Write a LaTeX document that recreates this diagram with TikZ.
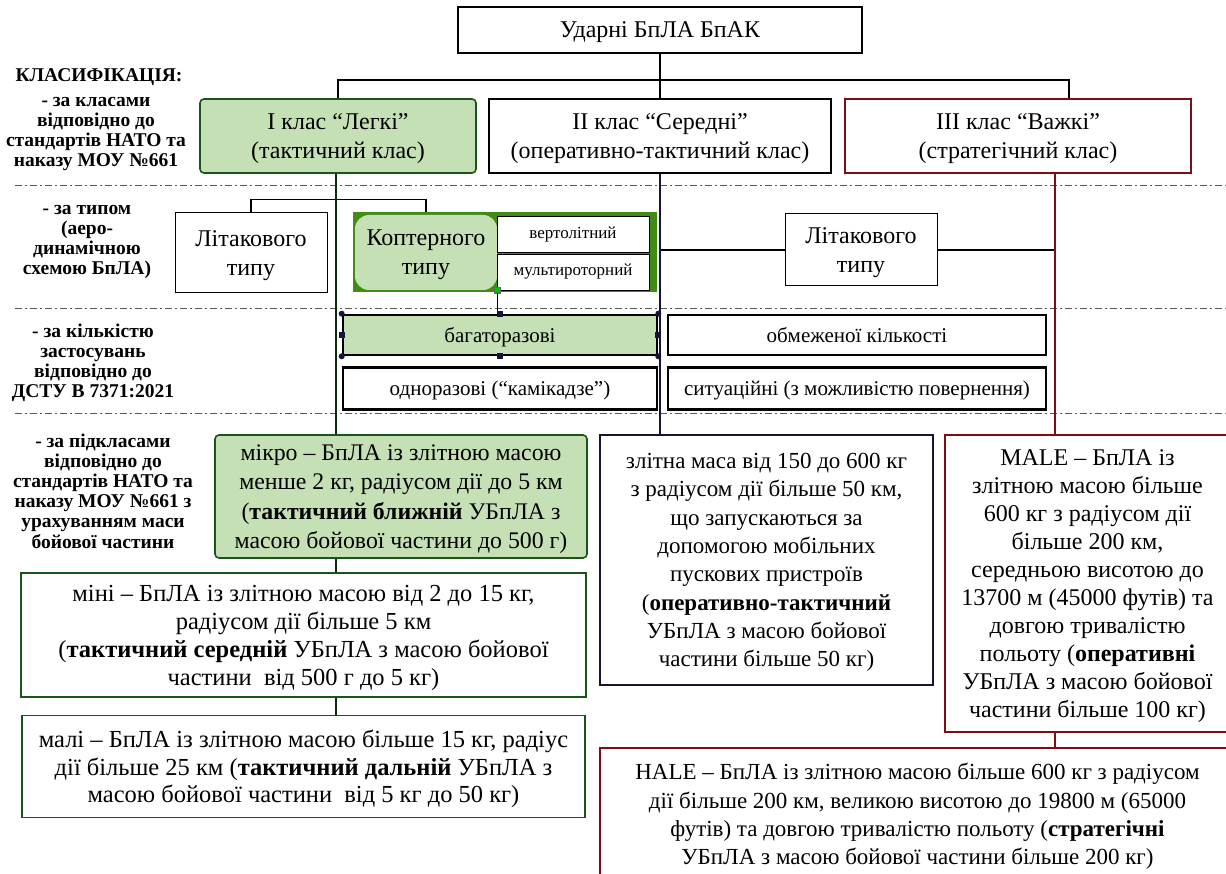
\documentclass[tikz,border=0pt]{standalone}
\usepackage{fontspec}
\setmainfont{Liberation Serif}
\usetikzlibrary{positioning,calc}
\definecolor{lgreen}{RGB}{197,224,180}
\definecolor{dgreen}{RGB}{25,85,25}
\definecolor{kgreen}{RGB}{65,140,20}
\definecolor{maroon}{RGB}{125,15,20}
\definecolor{navy}{RGB}{20,20,60}
\newcommand{\bodyfs}{\fontsize{24}{29}\selectfont}
\newcommand{\smallfs}{\fontsize{23}{28.3}\selectfont}
\newcommand{\rowfs}{\fontsize{21}{24}\selectfont}
\newcommand{\subfs}{\fontsize{17}{19}\selectfont}
\newcommand{\labfs}{\fontsize{19.5}{20.2}\selectfont\bfseries}

\begin{document}
\begin{tikzpicture}[x=1pt,y=-1pt,
 box/.style={draw,line width=1.6pt,fill=white,align=center,inner sep=0pt,text depth=0pt,font=\bodyfs},
 grn/.style={box,fill=lgreen,draw=dgreen,rounded corners=4pt},
 gbox/.style={box,draw=dgreen},
 rbox/.style={box,draw=maroon,line width=2pt},
 row3/.style={box,line width=2.6pt,font=\rowfs},
 sub/.style={draw,line width=0.8pt,fill=white,align=center,font=\subfs,minimum width=152pt,minimum height=36pt,inner sep=0pt},
 lab/.style={align=center,font=\labfs},
 conn/.style={line width=1.2pt},
 col1/.style={line width=1.8pt,dgreen!50!black},
 col2/.style={line width=1.8pt,navy},
 col3/.style={line width=1.8pt,maroon},
 sep/.style={gray!70!black,line width=0.8pt,dash pattern=on 7pt off 3pt on 2pt off 3pt},
 handle/.style={fill=navy,minimum size=6pt,inner sep=0pt}]
\useasboundingbox (0,0) rectangle (1226,874);
\fill[white] (0,0) rectangle (1226,874);
% separators between the levels
\foreach \y in {185,308,413} \draw[sep] (15,\y) -- (1226,\y);

% left column
\node[lab] (cls) at (99,77) {КЛАСИФІКАЦІЯ:};
\node[lab] (lab1) at (96,134) {- за класами\\відповідно до\\стандартів НАТО та\\наказу МОУ №661};
\node[lab] (lab2) at (87,242) {- за типом\\(аеро-\\динамічною\\схемою БпЛА)};
\node[lab] (lab3) at (93,363) {- за кількістю\\застосувань\\відповідно до\\ДСТУ В 7371:2021};
\node[lab] (lab4) at (103,491) {- за підкласами\\відповідно до\\стандартів НАТО та\\наказу МОУ №661 з\\урахуванням маси\\бойової частини};

% classes
\node[box,line width=2pt,minimum width=404pt,minimum height=46pt] (top) at (660,30) {Ударні БпЛА БпАК};
\node[grn,minimum width=276pt,minimum height=74pt] (c1) at (338,136) {I клас “Легкі”\\(тактичний клас)};
\node[box,minimum width=342pt,minimum height=74pt] (c2) at (660,136) {II клас “Середні”\\(оперативно-тактичний клас)};
\node[rbox,minimum width=346pt,minimum height=74pt] (c3) at (1018,136) {III клас “Важкі”\\(стратегічний клас)};
\coordinate (bus) at ($(top.south)+(0,26)$);
\coordinate (l1) at ([xshift=-2pt]c1.south);
\coordinate (l3) at ([xshift=37pt]c3.south);
\draw[conn] (top.south) -- (bus);
\draw[conn] (c1.north) |- (bus) -| ([xshift=51pt]c3.north);
\draw[conn] (bus) -- (c2.north);

% type
\node[box,line width=1pt,minimum width=152pt,minimum height=80pt] (lit1) at (251,253) {Літакового\\типу};
\node[draw=kgreen,fill=kgreen,line width=1pt,minimum width=303pt,minimum height=79pt] (kop) at (504.5,252.5) {};
\node[fill=lgreen,rounded corners=14pt,minimum width=142pt,minimum height=75pt,align=center,font=\bodyfs,inner sep=0pt,text depth=0pt] (kopl) at (426,252.5) {Коптерного\\типу};
\node[sub] (vert) at (573,234) {вертолітний};
\node[sub] (mult) at (573,272) {мультироторний};
\node[box,line width=1pt,minimum width=152pt,minimum height=72pt] (lit2) at (861,250) {Літакового\\типу};

% number of uses
\node[row3,fill=lgreen,minimum width=314pt,minimum height=40pt] (bahat) at (500,335) {багаторазові};
\node[row3,minimum width=314pt,minimum height=42pt,below=10pt of bahat] (odno) {одноразові (“камікадзе”)};
\node[row3,minimum width=378pt,minimum height=40pt] (obm) at (857,335) {обмеженої кількості};
\node[row3,minimum width=378pt,minimum height=42pt,below=10pt of obm] (sytu) {ситуаційні (з можливістю повернення)};

% subclasses
\node[grn,font=\fontsize{23.8}{29.3}\selectfont,minimum width=372pt,minimum height=123pt] (micro) at (401,496.5) {мікро – БпЛА із злітною масою\\менше 2 кг, радіусом дії до 5 км\\(\textbf{тактичний ближній} УБпЛА з\\масою бойової частини до 500 г)};
\node[box,font=\smallfs,draw=navy,line width=2pt,minimum width=333pt,minimum height=250pt] (zlit) at (766.5,560) {злітна маса від 150 до 600 кг\\з радіусом дії більше 50 км,\\що запускаються за\\допомогою мобільних\\пускових пристроїв\\(\textbf{оперативно-тактичний}\\УБпЛА з масою бойової\\частини більше 50 кг)};
\node[rbox,font=\fontsize{24}{28}\selectfont,minimum width=285pt,minimum height=297pt] (male) at (1087.5,583.5) {MALE – БпЛА із\\злітною масою більше\\600 кг з радіусом дії\\більше 200 км,\\середньою висотою до\\13700 м (45000 футів) та\\довгою тривалістю\\польоту (\textbf{оперативні}\\УБпЛА з масою бойової\\частини більше 100 кг)};
\node[gbox,font=\fontsize{24.5}{28}\selectfont,minimum width=565pt,minimum height=124pt] (mini) at (303.5,635) {міні – БпЛА із злітною масою від 2 до 15 кг,\\радіусом дії більше 5 км\\(\textbf{тактичний середній} УБпЛА з масою бойової\\частини\ \ від 500 г до 5 кг)};
\node[gbox,font=\fontsize{24.5}{27.5}\selectfont,minimum width=563pt,minimum height=102pt,below=17pt of mini] (mali) {малі – БпЛА із злітною масою більше 15 кг, радіус\\дії більше 25 км (\textbf{тактичний дальній} УБпЛА з\\масою бойової частини\ \ від 5 кг до 50 кг)};
\node[rbox,font=\smallfs,minimum width=635pt,minimum height=132pt] (hale) at (917.5,814) {HALE – БпЛА із злітною масою більше 600 кг з радіусом\\дії більше 200 км, великою висотою до 19800 м (65000\\футів) та довгою тривалістю польоту (\textbf{стратегічні}\\УБпЛА з масою бойової частини більше 200 кг)};

% branches
\draw[conn] (lit1.north) -- ++(0,-13) -| (kopl.north |- kop.north);
\draw[conn] (lit2.west) -- (lit2.west -| c2.south);
\draw[conn] (lit2.east) -- (lit2.east -| l3);
\draw[col1] (l1) -- (l1 |- micro.north);
\draw[col2] (c2.south) -- (c2.south |- zlit.north);
\draw[col3] (l3) -- (l3 |- male.north);
\draw[col1] (micro.south -| l1) -- (mini.north -| l1);
\draw[col1] (mini.south -| l1) -- (mali.north -| l1);
\draw[col3] (male.south -| l3) -- (hale.north -| l3);

% selection handles
\node[handle,fill=green!75!black,draw=black!60,line width=.4pt] (gh) at (kopl.south east) {};
\draw[line width=.6pt] (gh.south) -- (gh.south |- bahat.north);
\foreach \a/\n in {north west/h1,north east/h2,south west/h3,south east/h4}
  \node[handle,circle] (\n) at (bahat.\a) {};
\foreach \a/\n in {north/h5,south/h6,west/h7,east/h8}
  \node[handle] (\n) at (bahat.\a) {};
\end{tikzpicture}
\end{document}
